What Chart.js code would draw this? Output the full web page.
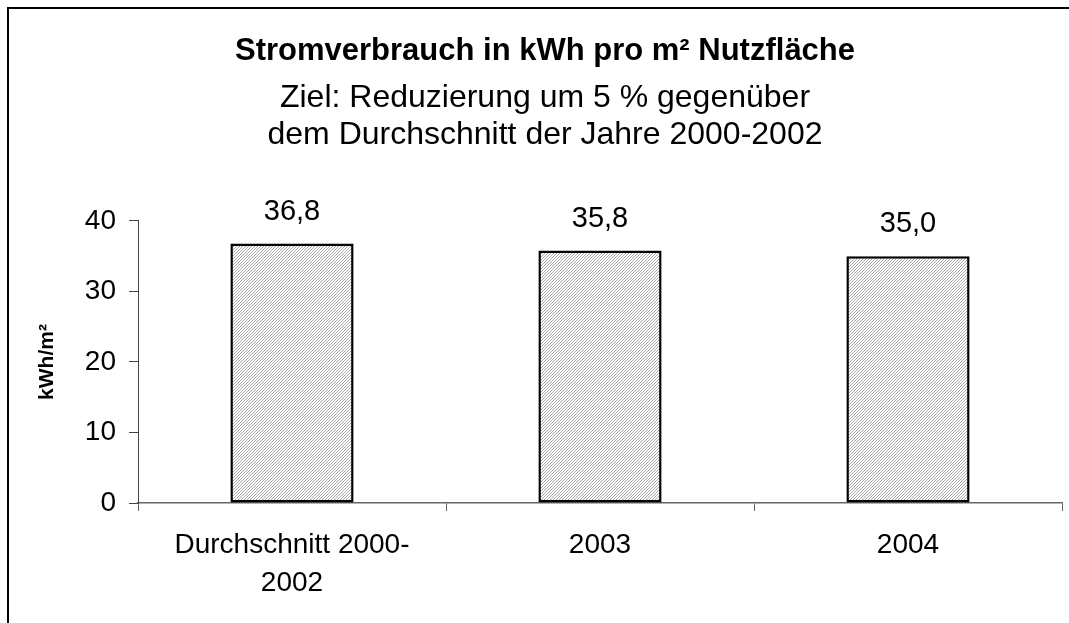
<!DOCTYPE html>
<html>
<head>
  <meta charset="UTF-8">
  <title>Stromverbrauch</title>
  <script src="https://cdn.jsdelivr.net/npm/chart.js"></script>
  <style>
    html, body { margin: 0; padding: 0; background: #fff; }
    #chart { display: block; }
  </style>
</head>
<body>
  <canvas id="chart" width="1069" height="623"></canvas>
  <script>
    const categories = [['Durchschnitt 2000-', '2002'], '2003', '2004'];
    const values = [36.8, 35.8, 35.0];
    const yMin = 0, yMax = 40, yStep = 10;

    const titleText = 'Stromverbrauch in kWh pro m² Nutzfläche';
    const subtitleLines = ['Ziel: Reduzierung um 5 % gegenüber', 'dem Durchschnitt der Jahre 2000-2002'];
    const yTitle = 'kWh/m²';

    const FONT = '"Liberation Sans", Arial, Helvetica, sans-serif';
    Chart.defaults.font.family = FONT;
    Chart.defaults.color = '#000';

    // fine diagonal hatch like the original fill
    function hatch() {
      const c = document.createElement('canvas');
      c.width = 3; c.height = 3;
      const g = c.getContext('2d');
      g.fillStyle = '#fff';
      g.fillRect(0, 0, 3, 3);
      g.fillStyle = '#a6a6a6';
      for (let i = 0; i < 3; i++) g.fillRect(2 - i, i, 1, 1);
      return g.createPattern(c, 'repeat');
    }

    const frame = {
      id: 'frame',
      beforeDraw(chart) {
        const ctx = chart.ctx;
        ctx.save();
        ctx.fillStyle = '#fff';
        ctx.fillRect(0, 0, chart.width, chart.height);
        ctx.strokeStyle = '#000';
        ctx.lineWidth = 2;
        ctx.strokeRect(8, 8, chart.width + 10, chart.height + 10);
        ctx.restore();
      }
    };

    const valueLabels = {
      id: 'valueLabels',
      afterDatasetsDraw(chart) {
        const ctx = chart.ctx;
        const meta = chart.getDatasetMeta(0);
        ctx.save();
        ctx.font = '29px ' + FONT;
        ctx.fillStyle = '#000';
        ctx.textAlign = 'center';
        ctx.textBaseline = 'middle';
        meta.data.forEach((bar, i) => {
          ctx.fillText(values[i].toFixed(1).replace('.', ','), bar.x, bar.y - 32);
        });
        ctx.restore();
      }
    };

    new Chart(document.getElementById('chart').getContext('2d'), {
      type: 'bar',
      data: {
        labels: categories,
        datasets: [{
          data: values,
          backgroundColor: hatch(),
          borderColor: '#000',
          borderWidth: 2.5,
          borderSkipped: false,
          barPercentage: 0.4,
          categoryPercentage: 1
        }]
      },
      options: {
        responsive: false,
        animation: false,
        layout: { padding: { left: 28, right: 7, top: 0, bottom: 0 } },
        plugins: {
          legend: { display: false },
          tooltip: { enabled: false },
          title: {
            display: true,
            text: titleText,
            font: { size: 31, weight: 'bold', lineHeight: 1.2 },
            padding: { top: 33, bottom: 0 }
          },
          subtitle: {
            display: true,
            text: subtitleLines,
            font: { size: 32, weight: 'normal', lineHeight: 1.16 },
            padding: { top: 9.5, bottom: 67 }
          }
        },
        scales: {
          x: {
            grid: { drawOnChartArea: false, tickLength: 8, color: '#666', offset: true },
            border: { color: '#666', width: 1.5 },
            ticks: { font: { size: 28, lineHeight: 1.36 }, padding: 15, maxRotation: 0 },
            afterFit(scale) { scale.height = 120; }
          },
          y: {
            min: yMin,
            max: yMax,
            ticks: { stepSize: yStep, font: { size: 28 }, padding: 13 },
            grid: { drawOnChartArea: false, tickLength: 9, color: '#444' },
            border: { color: '#444', width: 1 },
            title: {
              display: true,
              text: yTitle,
              font: { size: 21, weight: 'bold' },
              padding: { top: 7, bottom: 0 }
            },
            afterFit(scale) { scale.width = 110; }
          }
        }
      },
      plugins: [frame, valueLabels]
    });
  </script>
</body>
</html>
